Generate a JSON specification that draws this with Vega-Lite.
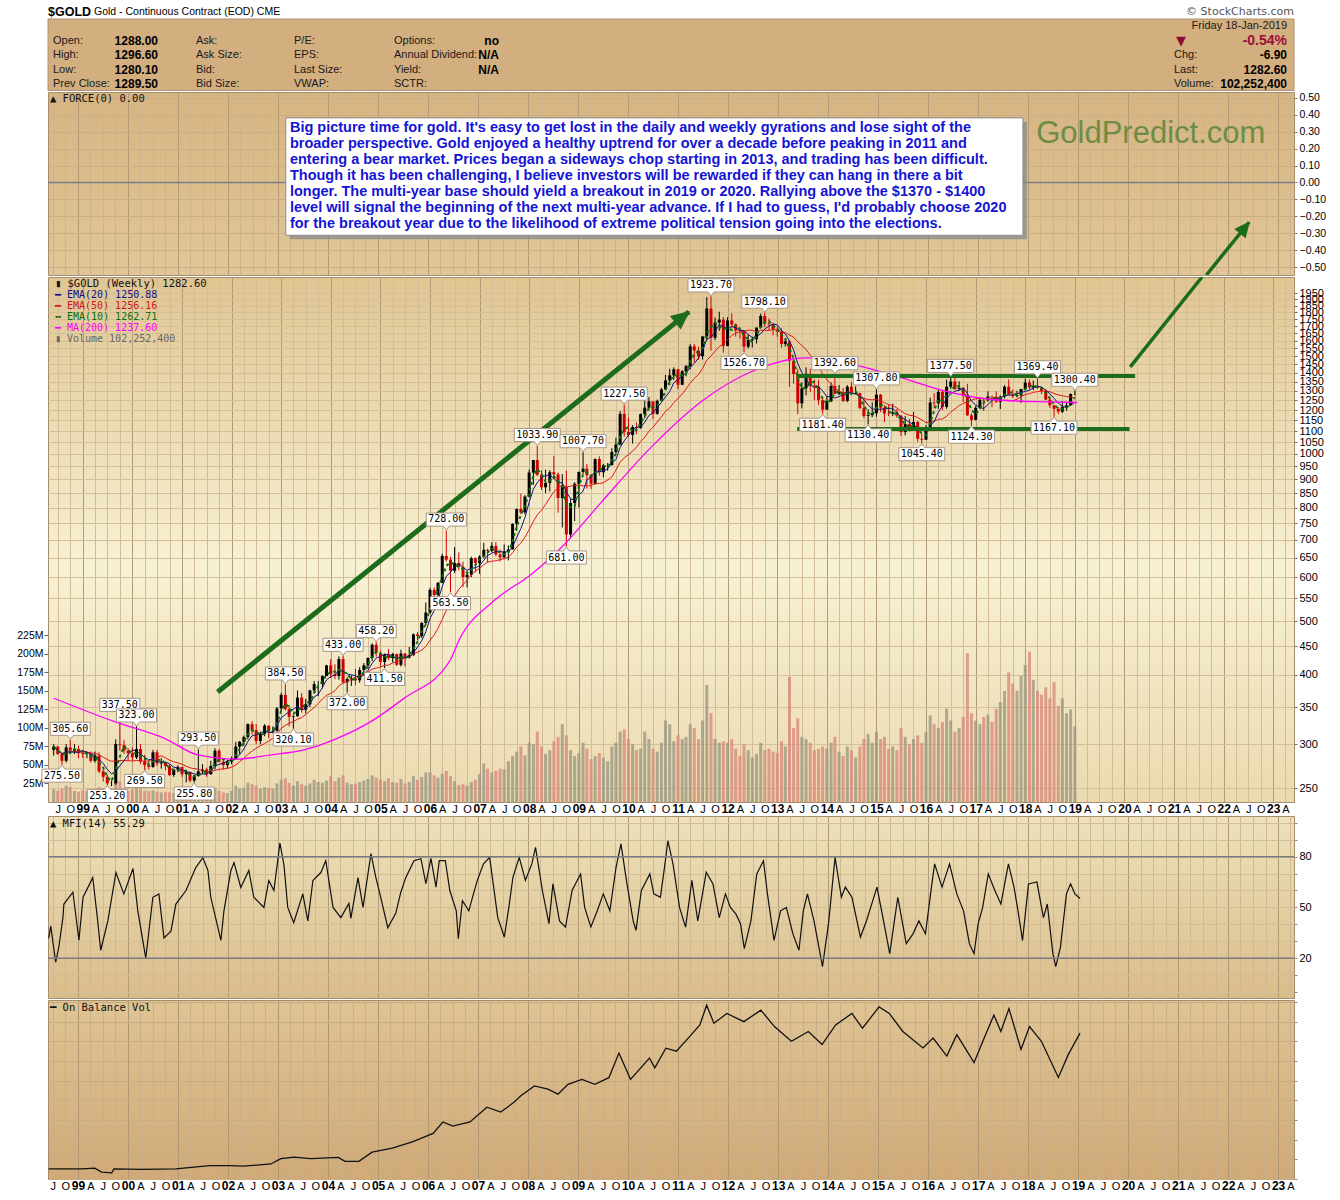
{
"$schema":"https://vega.github.io/schema/vega-lite/v6.json",
"background":"#ffffff",
"padding":{"left":16,"top":0,"right":0,"bottom":0},
"spacing":0,
"config":{"view":{"stroke":"#a58c6c"},"font":"Liberation Sans","axis":{"labelFont":"Liberation Sans","labelColor":"#000000"}},
"datasets":{
"candles":[
{"d":"1998-06","o":293,"h":300,"l":286,"c":297,"v":17},{"d":"1998-07","o":297,"h":298,"l":287,"c":288,"v":15},{"d":"1998-08","o":288,"h":290,"l":275.5,"c":280,"v":18},{"d":"1998-09","o":280,"h":300,"l":278,"c":296,"v":22},{"d":"1998-10","o":296,"h":305.6,"l":288,"c":292,"v":20},{"d":"1998-11","o":292,"h":300,"l":288,"c":294,"v":15},{"d":"1998-12","o":294,"h":298,"l":283,"c":289,"v":14},
{"d":"1999-01","o":289,"h":293,"l":283,"c":288,"v":16},{"d":"1999-02","o":288,"h":291,"l":283,"c":288,"v":15},{"d":"1999-03","o":288,"h":291,"l":278,"c":280,"v":16},{"d":"1999-04","o":280,"h":291,"l":278,"c":286,"v":17},{"d":"1999-05","o":286,"h":290,"l":266,"c":268,"v":20},{"d":"1999-06","o":268,"h":270,"l":257,"c":262,"v":19},{"d":"1999-07","o":262,"h":264,"l":253.2,"c":255,"v":20},{"d":"1999-08","o":255,"h":258,"l":252,"c":255,"v":17},{"d":"1999-09","o":255,"h":306,"l":253.5,"c":300,"v":30},{"d":"1999-10","o":300,"h":337.5,"l":292,"c":299,"v":28},{"d":"1999-11","o":299,"h":305,"l":288,"c":292,"v":19},{"d":"1999-12","o":292,"h":295,"l":280,"c":289,"v":15},
{"d":"2000-01","o":289,"h":296,"l":280,"c":284,"v":17},{"d":"2000-02","o":284,"h":323,"l":282,"c":294,"v":26},{"d":"2000-03","o":294,"h":300,"l":276,"c":279,"v":18},{"d":"2000-04","o":279,"h":287,"l":269.5,"c":275,"v":15},{"d":"2000-05","o":275,"h":280,"l":270,"c":273,"v":15},{"d":"2000-06","o":273,"h":293,"l":272,"c":290,"v":16},{"d":"2000-07","o":290,"h":293,"l":274,"c":277,"v":14},{"d":"2000-08","o":277,"h":283,"l":271,"c":278,"v":13},{"d":"2000-09","o":278,"h":279,"l":269,"c":274,"v":14},{"d":"2000-10","o":274,"h":276,"l":263,"c":264,"v":13},{"d":"2000-11","o":264,"h":271,"l":262,"c":270,"v":12},{"d":"2000-12","o":270,"h":275,"l":267,"c":273,"v":11},
{"d":"2001-01","o":273,"h":273,"l":262,"c":265,"v":13},{"d":"2001-02","o":265,"h":270,"l":256,"c":267,"v":14},{"d":"2001-03","o":267,"h":268,"l":256,"c":258,"v":13},{"d":"2001-04","o":258,"h":264,"l":255.8,"c":263,"v":14},{"d":"2001-05","o":263,"h":293.5,"l":262,"c":268,"v":20},{"d":"2001-06","o":268,"h":276,"l":265,"c":270,"v":15},{"d":"2001-07","o":270,"h":272,"l":262,"c":265,"v":12},{"d":"2001-08","o":265,"h":280,"l":264,"c":274,"v":13},{"d":"2001-09","o":274,"h":295,"l":270,"c":292,"v":19},{"d":"2001-10","o":292,"h":294,"l":278,"c":279,"v":15},{"d":"2001-11","o":279,"h":283,"l":270,"c":275,"v":13},{"d":"2001-12","o":275,"h":281,"l":271,"c":279,"v":12},
{"d":"2002-01","o":279,"h":285,"l":276,"c":282,"v":15},{"d":"2002-02","o":282,"h":303,"l":281,"c":297,"v":22},{"d":"2002-03","o":297,"h":304,"l":288,"c":303,"v":18},{"d":"2002-04","o":303,"h":311,"l":298,"c":309,"v":19},{"d":"2002-05","o":309,"h":327,"l":306,"c":326,"v":26},{"d":"2002-06","o":326,"h":330,"l":312,"c":318,"v":24},{"d":"2002-07","o":318,"h":326,"l":300,"c":304,"v":22},{"d":"2002-08","o":304,"h":316,"l":300,"c":313,"v":18},{"d":"2002-09","o":313,"h":326,"l":310,"c":324,"v":20},{"d":"2002-10","o":324,"h":324,"l":308,"c":316,"v":19},{"d":"2002-11","o":316,"h":323,"l":314,"c":317,"v":18},{"d":"2002-12","o":317,"h":350,"l":316,"c":348,"v":25},
{"d":"2003-01","o":348,"h":371,"l":344,"c":368,"v":30},{"d":"2003-02","o":368,"h":384.5,"l":345,"c":347,"v":32},{"d":"2003-03","o":347,"h":353,"l":323,"c":336,"v":26},{"d":"2003-04","o":336,"h":338,"l":320.1,"c":337,"v":22},{"d":"2003-05","o":337,"h":375,"l":336,"c":364,"v":28},{"d":"2003-06","o":364,"h":371,"l":342,"c":346,"v":24},{"d":"2003-07","o":346,"h":362,"l":341,"c":354,"v":22},{"d":"2003-08","o":354,"h":376,"l":350,"c":375,"v":25},{"d":"2003-09","o":375,"h":390,"l":370,"c":385,"v":30},{"d":"2003-10","o":385,"h":390,"l":366,"c":385,"v":27},{"d":"2003-11","o":385,"h":399,"l":378,"c":398,"v":26},{"d":"2003-12","o":398,"h":417,"l":398,"c":416,"v":29},
{"d":"2004-01","o":416,"h":427,"l":395,"c":401,"v":35},{"d":"2004-02","o":401,"h":418,"l":393,"c":398,"v":28},{"d":"2004-03","o":398,"h":432,"l":392,"c":427,"v":33},{"d":"2004-04","o":427,"h":433,"l":386,"c":388,"v":36},{"d":"2004-05","o":388,"h":396,"l":372,"c":393,"v":26},{"d":"2004-06","o":393,"h":399,"l":382,"c":394,"v":24},{"d":"2004-07","o":394,"h":410,"l":383,"c":391,"v":25},{"d":"2004-08","o":391,"h":413,"l":387,"c":408,"v":27},{"d":"2004-09","o":408,"h":420,"l":398,"c":416,"v":29},{"d":"2004-10","o":416,"h":430,"l":410,"c":429,"v":31},{"d":"2004-11","o":429,"h":456,"l":423,"c":453,"v":36},{"d":"2004-12","o":453,"h":458.2,"l":431,"c":438,"v":33},
{"d":"2005-01","o":438,"h":442,"l":414,"c":422,"v":30},{"d":"2005-02","o":422,"h":437,"l":411.5,"c":435,"v":28},{"d":"2005-03","o":435,"h":445,"l":425,"c":429,"v":32},{"d":"2005-04","o":429,"h":438,"l":421,"c":436,"v":27},{"d":"2005-05","o":436,"h":437,"l":415,"c":417,"v":26},{"d":"2005-06","o":417,"h":444,"l":414,"c":437,"v":31},{"d":"2005-07","o":437,"h":437,"l":414,"c":430,"v":25},{"d":"2005-08","o":430,"h":449,"l":428,"c":434,"v":27},{"d":"2005-09","o":434,"h":475,"l":433,"c":473,"v":35},{"d":"2005-10","o":473,"h":478,"l":461,"c":470,"v":30},{"d":"2005-11","o":470,"h":498,"l":466,"c":496,"v":34},{"d":"2005-12","o":496,"h":540,"l":490,"c":518,"v":40},
{"d":"2006-01","o":518,"h":574,"l":515,"c":569,"v":40},{"d":"2006-02","o":569,"h":575,"l":541,"c":557,"v":36},{"d":"2006-03","o":557,"h":588,"l":538,"c":586,"v":33},{"d":"2006-04","o":586,"h":661,"l":585,"c":655,"v":38},{"d":"2006-05","o":655,"h":728,"l":640,"c":645,"v":42},{"d":"2006-06","o":645,"h":653,"l":563.5,"c":616,"v":35},{"d":"2006-07","o":616,"h":680,"l":610,"c":636,"v":28},{"d":"2006-08","o":636,"h":665,"l":617,"c":626,"v":23},{"d":"2006-09","o":626,"h":640,"l":576,"c":600,"v":24},{"d":"2006-10","o":600,"h":611,"l":575,"c":606,"v":22},{"d":"2006-11","o":606,"h":653,"l":600,"c":649,"v":27},{"d":"2006-12","o":649,"h":651,"l":612,"c":636,"v":30},
{"d":"2007-01","o":636,"h":657,"l":608,"c":653,"v":38},{"d":"2007-02","o":653,"h":692,"l":648,"c":672,"v":52},{"d":"2007-03","o":672,"h":675,"l":637,"c":669,"v":45},{"d":"2007-04","o":669,"h":693,"l":665,"c":683,"v":40},{"d":"2007-05","o":683,"h":694,"l":654,"c":659,"v":42},{"d":"2007-06","o":659,"h":673,"l":640,"c":651,"v":45},{"d":"2007-07","o":651,"h":687,"l":650,"c":667,"v":44},{"d":"2007-08","o":667,"h":684,"l":643,"c":673,"v":55},{"d":"2007-09","o":673,"h":750,"l":673,"c":748,"v":62},{"d":"2007-10","o":748,"h":797,"l":727,"c":796,"v":68},{"d":"2007-11","o":796,"h":848,"l":779,"c":785,"v":75},{"d":"2007-12","o":785,"h":843,"l":779,"c":838,"v":63},
{"d":"2008-01","o":838,"h":937,"l":835,"c":926,"v":80},{"d":"2008-02","o":926,"h":975,"l":880,"c":975,"v":78},{"d":"2008-03","o":975,"h":1033.9,"l":912,"c":917,"v":95},{"d":"2008-04","o":917,"h":934,"l":861,"c":871,"v":75},{"d":"2008-05","o":871,"h":937,"l":850,"c":887,"v":65},{"d":"2008-06","o":887,"h":935,"l":856,"c":927,"v":70},{"d":"2008-07","o":927,"h":992,"l":900,"c":919,"v":82},{"d":"2008-08","o":919,"h":926,"l":784,"c":833,"v":88},{"d":"2008-09","o":833,"h":920,"l":737,"c":872,"v":105},{"d":"2008-10","o":872,"h":934,"l":681,"c":716,"v":90},{"d":"2008-11","o":716,"h":831,"l":705,"c":816,"v":70},{"d":"2008-12","o":816,"h":889,"l":757,"c":884,"v":62},
{"d":"2009-01","o":884,"h":930,"l":801,"c":928,"v":66},{"d":"2009-02","o":928,"h":1007.7,"l":920,"c":941,"v":80},{"d":"2009-03","o":941,"h":960,"l":866,"c":916,"v":72},{"d":"2009-04","o":916,"h":918,"l":865,"c":884,"v":58},{"d":"2009-05","o":884,"h":982,"l":880,"c":979,"v":62},{"d":"2009-06","o":979,"h":990,"l":914,"c":927,"v":66},{"d":"2009-07","o":927,"h":960,"l":908,"c":955,"v":60},{"d":"2009-08","o":955,"h":963,"l":933,"c":955,"v":55},{"d":"2009-09","o":955,"h":1024,"l":953,"c":1008,"v":75},{"d":"2009-10","o":1008,"h":1070,"l":1003,"c":1040,"v":80},{"d":"2009-11","o":1040,"h":1195,"l":1036,"c":1181,"v":95},{"d":"2009-12","o":1181,"h":1227.5,"l":1075,"c":1096,"v":98},
{"d":"2010-01","o":1096,"h":1162,"l":1074,"c":1082,"v":85},{"d":"2010-02","o":1082,"h":1127,"l":1044,"c":1118,"v":78},{"d":"2010-03","o":1118,"h":1140,"l":1086,"c":1113,"v":70},{"d":"2010-04","o":1113,"h":1183,"l":1111,"c":1180,"v":72},{"d":"2010-05","o":1180,"h":1249,"l":1160,"c":1212,"v":95},{"d":"2010-06","o":1212,"h":1266,"l":1198,"c":1244,"v":85},{"d":"2010-07","o":1244,"h":1245,"l":1155,"c":1181,"v":72},{"d":"2010-08","o":1181,"h":1253,"l":1177,"c":1247,"v":68},{"d":"2010-09","o":1247,"h":1315,"l":1245,"c":1307,"v":80},{"d":"2010-10","o":1307,"h":1388,"l":1305,"c":1357,"v":110},{"d":"2010-11","o":1357,"h":1424,"l":1330,"c":1386,"v":105},{"d":"2010-12","o":1386,"h":1432,"l":1360,"c":1421,"v":82},
{"d":"2011-01","o":1421,"h":1424,"l":1309,"c":1333,"v":90},{"d":"2011-02","o":1333,"h":1416,"l":1330,"c":1409,"v":85},{"d":"2011-03","o":1409,"h":1447,"l":1380,"c":1439,"v":88},{"d":"2011-04","o":1439,"h":1577,"l":1420,"c":1563,"v":105},{"d":"2011-05","o":1563,"h":1578,"l":1462,"c":1536,"v":100},{"d":"2011-06","o":1536,"h":1561,"l":1478,"c":1500,"v":85},{"d":"2011-07","o":1500,"h":1632,"l":1480,"c":1628,"v":110},{"d":"2011-08","o":1628,"h":1917,"l":1602,"c":1829,"v":158},{"d":"2011-09","o":1829,"h":1923.7,"l":1535,"c":1620,"v":120},{"d":"2011-10","o":1620,"h":1762,"l":1604,"c":1725,"v":85},{"d":"2011-11","o":1725,"h":1804,"l":1667,"c":1746,"v":80},{"d":"2011-12","o":1746,"h":1764,"l":1523,"c":1566,"v":82},
{"d":"2012-01","o":1566,"h":1764,"l":1563,"c":1740,"v":80},{"d":"2012-02","o":1740,"h":1792,"l":1688,"c":1711,"v":85},{"d":"2012-03","o":1711,"h":1720,"l":1627,"c":1669,"v":72},{"d":"2012-04","o":1669,"h":1680,"l":1613,"c":1664,"v":62},{"d":"2012-05","o":1664,"h":1667,"l":1526.7,"c":1561,"v":78},{"d":"2012-06","o":1561,"h":1642,"l":1550,"c":1604,"v":70},{"d":"2012-07","o":1604,"h":1625,"l":1555,"c":1610,"v":60},{"d":"2012-08","o":1610,"h":1675,"l":1582,"c":1690,"v":65},{"d":"2012-09","o":1690,"h":1790,"l":1688,"c":1773,"v":80},{"d":"2012-10","o":1773,"h":1798.1,"l":1692,"c":1719,"v":70},{"d":"2012-11","o":1719,"h":1755,"l":1672,"c":1714,"v":72},{"d":"2012-12","o":1714,"h":1724,"l":1636,"c":1675,"v":68},
{"d":"2013-01","o":1675,"h":1698,"l":1626,"c":1663,"v":66},{"d":"2013-02","o":1663,"h":1684,"l":1555,"c":1579,"v":82},{"d":"2013-03","o":1579,"h":1617,"l":1562,"c":1596,"v":75},{"d":"2013-04","o":1596,"h":1605,"l":1321,"c":1472,"v":169},{"d":"2013-05","o":1472,"h":1488,"l":1338,"c":1393,"v":100},{"d":"2013-06","o":1393,"h":1424,"l":1180,"c":1234,"v":113},{"d":"2013-07","o":1234,"h":1347,"l":1208,"c":1313,"v":88},{"d":"2013-08","o":1313,"h":1433,"l":1275,"c":1395,"v":85},{"d":"2013-09","o":1395,"h":1424,"l":1292,"c":1327,"v":80},{"d":"2013-10","o":1327,"h":1362,"l":1251,"c":1323,"v":70},{"d":"2013-11","o":1323,"h":1361,"l":1226,"c":1250,"v":72},{"d":"2013-12","o":1250,"h":1267,"l":1181.4,"c":1202,"v":75},
{"d":"2014-01","o":1202,"h":1270,"l":1200,"c":1244,"v":72},{"d":"2014-02","o":1244,"h":1345,"l":1240,"c":1326,"v":80},{"d":"2014-03","o":1326,"h":1392.6,"l":1281,"c":1284,"v":88},{"d":"2014-04","o":1284,"h":1331,"l":1277,"c":1292,"v":68},{"d":"2014-05","o":1292,"h":1315,"l":1240,"c":1246,"v":62},{"d":"2014-06","o":1246,"h":1331,"l":1240,"c":1322,"v":75},{"d":"2014-07","o":1322,"h":1346,"l":1282,"c":1282,"v":70},{"d":"2014-08","o":1282,"h":1324,"l":1280,"c":1287,"v":60},{"d":"2014-09","o":1287,"h":1290,"l":1204,"c":1210,"v":75},{"d":"2014-10","o":1210,"h":1256,"l":1160,"c":1171,"v":85},{"d":"2014-11","o":1171,"h":1204,"l":1130.4,"c":1175,"v":92},{"d":"2014-12","o":1175,"h":1240,"l":1165,"c":1184,"v":80},
{"d":"2015-01","o":1184,"h":1307.8,"l":1167,"c":1279,"v":95},{"d":"2015-02","o":1279,"h":1283,"l":1190,"c":1212,"v":85},{"d":"2015-03","o":1212,"h":1224,"l":1142,"c":1183,"v":88},{"d":"2015-04","o":1183,"h":1225,"l":1170,"c":1182,"v":72},{"d":"2015-05","o":1182,"h":1232,"l":1170,"c":1189,"v":75},{"d":"2015-06","o":1189,"h":1205,"l":1162,"c":1172,"v":70},{"d":"2015-07","o":1172,"h":1175,"l":1077,"c":1095,"v":100},{"d":"2015-08","o":1095,"h":1170,"l":1080,"c":1132,"v":88},{"d":"2015-09","o":1132,"h":1157,"l":1098,"c":1114,"v":78},{"d":"2015-10","o":1114,"h":1191,"l":1110,"c":1142,"v":85},{"d":"2015-11","o":1142,"h":1146,"l":1052,"c":1065,"v":90},{"d":"2015-12","o":1065,"h":1090,"l":1045.4,"c":1061,"v":80},
{"d":"2016-01","o":1061,"h":1127,"l":1061,"c":1117,"v":95},{"d":"2016-02","o":1117,"h":1263,"l":1107,"c":1238,"v":117},{"d":"2016-03","o":1238,"h":1287,"l":1209,"c":1234,"v":105},{"d":"2016-04","o":1234,"h":1306,"l":1206,"c":1294,"v":100},{"d":"2016-05","o":1294,"h":1305,"l":1199,"c":1215,"v":108},{"d":"2016-06","o":1215,"h":1362,"l":1206,"c":1322,"v":126},{"d":"2016-07","o":1322,"h":1377.5,"l":1310,"c":1351,"v":110},{"d":"2016-08","o":1351,"h":1375,"l":1306,"c":1309,"v":95},{"d":"2016-09","o":1309,"h":1352,"l":1302,"c":1316,"v":100},{"d":"2016-10","o":1316,"h":1318,"l":1241,"c":1275,"v":115},{"d":"2016-11","o":1275,"h":1338,"l":1171,"c":1174,"v":201},{"d":"2016-12","o":1174,"h":1184,"l":1124.3,"c":1152,"v":120},
{"d":"2017-01","o":1152,"h":1221,"l":1150,"c":1211,"v":110},{"d":"2017-02","o":1211,"h":1264,"l":1207,"c":1252,"v":105},{"d":"2017-03","o":1252,"h":1262,"l":1195,"c":1249,"v":115},{"d":"2017-04","o":1249,"h":1297,"l":1243,"c":1269,"v":118},{"d":"2017-05","o":1269,"h":1275,"l":1214,"c":1268,"v":108},{"d":"2017-06","o":1268,"h":1297,"l":1236,"c":1242,"v":126},{"d":"2017-07","o":1242,"h":1275,"l":1205,"c":1269,"v":135},{"d":"2017-08","o":1269,"h":1330,"l":1260,"c":1322,"v":150},{"d":"2017-09","o":1322,"h":1362,"l":1277,"c":1280,"v":175},{"d":"2017-10","o":1280,"h":1308,"l":1262,"c":1271,"v":160},{"d":"2017-11","o":1271,"h":1300,"l":1265,"c":1275,"v":150},{"d":"2017-12","o":1275,"h":1310,"l":1236,"c":1309,"v":170},
{"d":"2018-01","o":1309,"h":1366,"l":1306,"c":1345,"v":185},{"d":"2018-02","o":1345,"h":1362,"l":1307,"c":1318,"v":203},{"d":"2018-03","o":1318,"h":1356,"l":1303,"c":1327,"v":165},{"d":"2018-04","o":1327,"h":1369.4,"l":1310,"c":1316,"v":150},{"d":"2018-05","o":1316,"h":1320,"l":1282,"c":1299,"v":145},{"d":"2018-06","o":1299,"h":1309,"l":1250,"c":1253,"v":155},{"d":"2018-07","o":1253,"h":1265,"l":1211,"c":1224,"v":140},{"d":"2018-08","o":1224,"h":1225,"l":1167.1,"c":1206,"v":162},{"d":"2018-09","o":1206,"h":1215,"l":1180,"c":1192,"v":130},{"d":"2018-10","o":1192,"h":1245,"l":1185,"c":1215,"v":140},{"d":"2018-11","o":1215,"h":1237,"l":1196,"c":1224,"v":120},{"d":"2018-12","o":1224,"h":1286,"l":1222,"c":1282,"v":125},
{"d":"2019-01","o":1282,"h":1300.4,"l":1276,"c":1282.6,"v":102}
],
"ann":[
{"d":"1998-10","p":305.6,"t":"305.60","k":"h"},{"d":"1999-10","p":337.5,"t":"337.50","k":"h"},{"d":"2000-02","p":323,"t":"323.00","k":"h"},{"d":"2001-05","p":293.5,"t":"293.50","k":"h"},{"d":"2003-02","p":384.5,"t":"384.50","k":"h"},{"d":"2004-04","p":433,"t":"433.00","k":"h"},{"d":"2004-12","p":458.2,"t":"458.20","k":"h"},{"d":"2006-05","p":728,"t":"728.00","k":"h"},{"d":"2008-03","p":1033.9,"t":"1033.90","k":"h"},{"d":"2009-02","p":1007.7,"t":"1007.70","k":"h"},{"d":"2009-12","p":1227.5,"t":"1227.50","k":"h"},{"d":"2011-09","p":1923.7,"t":"1923.70","k":"h"},{"d":"2012-10","p":1798.1,"t":"1798.10","k":"h"},{"d":"2014-03","p":1392.6,"t":"1392.60","k":"h"},{"d":"2015-01","p":1307.8,"t":"1307.80","k":"h"},{"d":"2016-07","p":1377.5,"t":"1377.50","k":"h"},{"d":"2018-04","p":1369.4,"t":"1369.40","k":"h"},{"d":"2019-01","p":1300.4,"t":"1300.40","k":"h"},
{"d":"1998-08","p":275.5,"t":"275.50","k":"l"},{"d":"1999-07","p":253.2,"t":"253.20","k":"l"},{"d":"2000-04","p":269.5,"t":"269.50","k":"l"},{"d":"2001-04","p":255.8,"t":"255.80","k":"l"},{"d":"2003-04","p":320.1,"t":"320.10","k":"l"},{"d":"2004-05","p":372,"t":"372.00","k":"l"},{"d":"2005-02","p":411.5,"t":"411.50","k":"l"},{"d":"2006-06","p":563.5,"t":"563.50","k":"l"},{"d":"2008-10","p":681,"t":"681.00","k":"l"},{"d":"2012-05","p":1526.7,"t":"1526.70","k":"l"},{"d":"2013-12","p":1181.4,"t":"1181.40","k":"l"},{"d":"2014-11","p":1130.4,"t":"1130.40","k":"l"},{"d":"2015-12","p":1045.4,"t":"1045.40","k":"l"},{"d":"2016-12","p":1124.3,"t":"1124.30","k":"l"},{"d":"2018-08","p":1167.1,"t":"1167.10","k":"l"}
],
"ma":[
{"d":"1998-06-01","m":363},{"d":"1999-08-29","m":329},{"d":"2000-08-29","m":307},{"d":"2001-04-27","m":287},{"d":"2002-02-14","m":282},{"d":"2002-10-19","m":287},{"d":"2003-06-18","m":293},{"d":"2004-02-14","m":307},{"d":"2004-10-19","m":329},{"d":"2005-06-18","m":362},{"d":"2006-05-27","m":424},{"d":"2006-08-07","m":464},{"d":"2007-04-06","m":541},{"d":"2008-01-20","m":608},{"d":"2008-08-29","m":680},{"d":"2009-06-18","m":820},{"d":"2010-06-18","m":1029},{"d":"2011-06-18","m":1241},{"d":"2012-06-18","m":1405},{"d":"2013-08-07","m":1490},{"d":"2014-06-18","m":1453},{"d":"2015-06-18","m":1376},{"d":"2016-06-18","m":1293},{"d":"2017-06-18","m":1251},{"d":"2018-06-18","m":1241},{"d":"2019-01-18","m":1238}
],
"mfi":[
{"d":"1998-06-01","m":31.8},{"d":"1998-06-16","m":39},{"d":"1998-07-22","m":17.6},{"d":"1998-08-14","m":26.5},{"d":"1998-09-13","m":44},{"d":"1998-09-20","m":52},{"d":"1998-11-25","m":59},{"d":"1999-01-08","m":30.6},{"d":"1999-02-07","m":56},{"d":"1999-04-19","m":67.6},{"d":"1999-05-25","m":42},{"d":"1999-06-16","m":24.7},{"d":"1999-08-07","m":42},{"d":"1999-10-05","m":70.6},{"d":"1999-12-02","m":58},
{"d":"2000-02-07","m":73},{"d":"2000-03-13","m":48},{"d":"2000-05-10","m":20},{"d":"2000-07-01","m":56},{"d":"2000-08-14","m":58},{"d":"2000-09-20","m":32},{"d":"2000-11-10","m":36},{"d":"2000-12-16","m":52},{"d":"2001-02-28","m":60},{"d":"2001-05-10","m":73.5},{"d":"2001-07-01","m":79.4},{"d":"2001-08-07","m":71.8},{"d":"2001-08-28","m":56},{"d":"2001-11-10","m":30.6},{"d":"2001-12-02","m":48},
{"d":"2002-01-22","m":71.8},{"d":"2002-02-14","m":76.5},{"d":"2002-04-04","m":61.8},{"d":"2002-06-02","m":71.8},{"d":"2002-07-08","m":56},{"d":"2002-09-20","m":50},{"d":"2002-10-26","m":65.9},{"d":"2002-12-02","m":60},{"d":"2003-01-15","m":88},{"d":"2003-02-14","m":74.7},{"d":"2003-03-13","m":50},{"d":"2003-04-26","m":41},{"d":"2003-07-01","m":58},{"d":"2003-08-07","m":42},{"d":"2003-09-13","m":65.9},{"d":"2003-11-10","m":70.6},{"d":"2003-12-16","m":77.6},
{"d":"2004-02-07","m":50},{"d":"2004-04-04","m":44},{"d":"2004-06-02","m":52.4},{"d":"2004-06-16","m":43.5},{"d":"2004-08-07","m":67.6},{"d":"2004-09-13","m":50},{"d":"2004-11-10","m":81.8},{"d":"2004-12-16","m":67.6},{"d":"2005-01-22","m":55.3},{"d":"2005-03-13","m":38},{"d":"2005-05-10","m":46.5},{"d":"2005-06-16","m":59},{"d":"2005-07-22","m":67.6},{"d":"2005-09-20","m":77.6},{"d":"2005-11-10","m":78.8},{"d":"2005-12-16","m":64},
{"d":"2006-01-22","m":79},{"d":"2006-02-28","m":62},{"d":"2006-03-24","m":77.6},{"d":"2006-05-07","m":77.6},{"d":"2006-06-09","m":60},{"d":"2006-07-26","m":48},{"d":"2006-08-10","m":31.5},{"d":"2006-09-09","m":54},{"d":"2006-10-26","m":48},{"d":"2006-11-25","m":57},{"d":"2006-12-27","m":66},{"d":"2007-02-10","m":75.7},{"d":"2007-03-27","m":79.6},{"d":"2007-05-25","m":44},{"d":"2007-07-12","m":32.5},{"d":"2007-08-14","m":50},{"d":"2007-09-13","m":67.8},{"d":"2007-10-29","m":79.6},{"d":"2007-12-13","m":66},
{"d":"2008-01-29","m":75.7},{"d":"2008-02-25","m":85.5},{"d":"2008-04-15","m":60},{"d":"2008-06-02","m":40.4},{"d":"2008-07-01","m":63.9},{"d":"2008-08-18","m":42},{"d":"2008-10-01","m":38.4},{"d":"2008-11-18","m":60},{"d":"2009-01-19","m":69.8},{"d":"2009-02-18","m":50},{"d":"2009-04-04","m":38.4},{"d":"2009-05-21","m":48},{"d":"2009-07-04","m":58},{"d":"2009-08-21","m":48},{"d":"2009-10-05","m":73.7},{"d":"2009-11-10","m":87.5},{"d":"2009-12-20","m":66},
{"d":"2010-02-07","m":42},{"d":"2010-02-28","m":36.4},{"d":"2010-04-08","m":60},{"d":"2010-06-09","m":69.8},{"d":"2010-07-08","m":58},{"d":"2010-08-25","m":56},{"d":"2010-09-24","m":73.7},{"d":"2010-10-19","m":89.4},{"d":"2010-11-25","m":75.7},{"d":"2011-01-12","m":50},{"d":"2011-02-25","m":38.4},{"d":"2011-04-12","m":66},{"d":"2011-05-25","m":42},{"d":"2011-07-26","m":70.8},{"d":"2011-09-13","m":63.9},{"d":"2011-10-29","m":44},{"d":"2011-12-13","m":58},
{"d":"2012-01-19","m":50},{"d":"2012-02-28","m":46},{"d":"2012-04-01","m":40.4},{"d":"2012-04-29","m":25.7},{"d":"2012-06-16","m":42},{"d":"2012-07-29","m":69.8},{"d":"2012-09-16","m":77.6},{"d":"2012-10-15","m":58},{"d":"2012-12-02","m":30.5},{"d":"2013-01-19","m":48},{"d":"2013-03-02","m":50},{"d":"2013-04-19","m":34.4},{"d":"2013-06-02","m":24.7},{"d":"2013-07-04","m":48},{"d":"2013-08-03","m":58},{"d":"2013-09-20","m":42},{"d":"2013-11-21","m":15},
{"d":"2014-01-04","m":40.4},{"d":"2014-02-21","m":79.6},{"d":"2014-04-08","m":56},{"d":"2014-05-07","m":62},{"d":"2014-06-24","m":56},{"d":"2014-08-25","m":32.5},{"d":"2014-10-08","m":42},{"d":"2014-12-24","m":62},{"d":"2015-02-10","m":42},{"d":"2015-03-27","m":22.7},{"d":"2015-05-25","m":56},{"d":"2015-07-26","m":28.6},{"d":"2015-09-13","m":34.4},{"d":"2015-10-26","m":42},{"d":"2015-12-13","m":34.4},
{"d":"2016-01-29","m":63.9},{"d":"2016-02-18","m":75.7},{"d":"2016-04-12","m":62},{"d":"2016-06-06","m":75.7},{"d":"2016-07-29","m":58},{"d":"2016-09-16","m":48},{"d":"2016-10-29","m":28.6},{"d":"2016-12-02","m":22.7},{"d":"2017-01-01","m":40.4},{"d":"2017-02-03","m":50},{"d":"2017-03-16","m":69.8},{"d":"2017-05-03","m":60},{"d":"2017-06-16","m":52},{"d":"2017-08-10","m":75.7},{"d":"2017-09-20","m":62},{"d":"2017-10-19","m":48},{"d":"2017-11-21","m":30.5},
{"d":"2018-01-04","m":63.9},{"d":"2018-03-06","m":65},{"d":"2018-04-23","m":44},{"d":"2018-05-21","m":52},{"d":"2018-07-01","m":22.7},{"d":"2018-07-22","m":15},{"d":"2018-08-25","m":26.6},{"d":"2018-10-08","m":58},{"d":"2018-11-07","m":63.9},{"d":"2018-12-09","m":58},{"d":"2019-01-15","m":55.3}
],
"obv":[
{"d":"1998-06-01","b":10.3},{"d":"1999-01-25","b":10.3},{"d":"1999-05-03","b":11},{"d":"1999-06-23","b":7},{"d":"1999-09-05","b":6.3},{"d":"1999-09-20","b":10.3},{"d":"2000-04-11","b":9.7},{"d":"2000-12-16","b":10.3},{"d":"2001-08-21","b":13.7},{"d":"2002-01-15","b":13.7},{"d":"2002-04-26","b":13},{"d":"2002-11-10","b":15.3},{"d":"2003-01-22","b":20.7},{"d":"2003-04-30","b":22.3},{"d":"2003-08-28","b":20.7},{"d":"2004-03-17","b":22},{"d":"2004-05-04","b":18},{"d":"2004-08-14","b":18},{"d":"2004-11-18","b":27.3},{"d":"2005-04-15","b":31.3},{"d":"2005-09-13","b":38},{"d":"2006-02-07","b":46.3},{"d":"2006-04-19","b":58},{"d":"2006-07-01","b":53.7},{"d":"2006-11-03","b":58},{"d":"2007-03-07","b":73},{"d":"2007-06-16","b":68},{"d":"2007-09-20","b":78},{"d":"2007-11-10","b":84.7},{"d":"2008-02-17","b":94.7},{"d":"2008-05-25","b":91.3},{"d":"2008-08-07","b":86.3},{"d":"2008-10-19","b":96.3},{"d":"2009-01-29","b":101.3},{"d":"2009-05-03","b":96.3},{"d":"2009-08-14","b":103},{"d":"2009-10-26","b":128},{"d":"2010-01-19","b":101.3},{"d":"2010-06-06","b":123},{"d":"2010-07-15","b":113},{"d":"2010-10-04","b":133},{"d":"2010-12-20","b":130},{"d":"2011-03-28","b":145},{"d":"2011-06-09","b":156.7},{"d":"2011-07-29","b":176.7},{"d":"2011-09-20","b":158.3},{"d":"2011-12-24","b":168.3},{"d":"2012-04-26","b":160},{"d":"2012-08-28","b":171.7},{"d":"2012-12-05","b":155},{"d":"2013-04-08","b":140},{"d":"2013-08-10","b":150},{"d":"2013-11-18","b":136.7},{"d":"2014-02-25","b":156.7},{"d":"2014-06-24","b":168.3},{"d":"2014-09-09","b":153.3},{"d":"2015-01-08","b":175},{"d":"2015-03-24","b":168.3},{"d":"2015-07-01","b":150},{"d":"2015-11-25","b":133.3},{"d":"2016-02-07","b":143.3},{"d":"2016-05-17","b":125},{"d":"2016-07-29","b":146.7},{"d":"2016-12-02","b":118.3},{"d":"2017-02-14","b":143.3},{"d":"2017-04-26","b":166.7},{"d":"2017-06-16","b":150},{"d":"2017-08-14","b":173.3},{"d":"2017-11-10","b":131.7},{"d":"2018-01-11","b":155},{"d":"2018-04-08","b":140},{"d":"2018-08-10","b":103.3},{"d":"2018-10-22","b":126.7},{"d":"2019-01-15","b":148.3}
],
"hdr":[
{"c":0,"r":0,"t":"Open:","k":"l"},{"c":1,"r":0,"t":"1288.00","k":"v"},{"c":0,"r":1,"t":"High:","k":"l"},{"c":1,"r":1,"t":"1296.60","k":"v"},{"c":0,"r":2,"t":"Low:","k":"l"},{"c":1,"r":2,"t":"1280.10","k":"v"},{"c":0,"r":3,"t":"Prev Close:","k":"l"},{"c":1,"r":3,"t":"1289.50","k":"v"},
{"c":2,"r":0,"t":"Ask:","k":"l"},{"c":2,"r":1,"t":"Ask Size:","k":"l"},{"c":2,"r":2,"t":"Bid:","k":"l"},{"c":2,"r":3,"t":"Bid Size:","k":"l"},
{"c":3,"r":0,"t":"P/E:","k":"l"},{"c":3,"r":1,"t":"EPS:","k":"l"},{"c":3,"r":2,"t":"Last Size:","k":"l"},{"c":3,"r":3,"t":"VWAP:","k":"l"},
{"c":4,"r":0,"t":"Options:","k":"l"},{"c":4,"r":1,"t":"Annual Dividend:","k":"l"},{"c":4,"r":2,"t":"Yield:","k":"l"},{"c":4,"r":3,"t":"SCTR:","k":"l"},
{"c":5,"r":0,"t":"no","k":"v"},{"c":5,"r":1,"t":"N/A","k":"v"},{"c":5,"r":2,"t":"N/A","k":"v"},
{"c":6,"r":1,"t":"Chg:","k":"l"},{"c":6,"r":2,"t":"Last:","k":"l"},{"c":6,"r":3,"t":"Volume:","k":"l"},
{"c":8,"r":1,"t":"-6.90","k":"v"},{"c":8,"r":2,"t":"1282.60","k":"v"},{"c":8,"r":3,"t":"102,252,400","k":"v"},
{"c":8,"r":-1,"t":"Friday  18-Jan-2019","k":"n"},{"c":9,"r":-2,"t":"© StockCharts.com","k":"s"},
{"c":8,"r":0,"t":"-0.54%","k":"p"},{"c":7,"r":0,"t":"▼","k":"a"},
{"c":-1,"r":-2,"t":"$GOLD","k":"T"},{"c":-1,"r":-2,"t":"Gold - Continuous Contract (EOD)  CME","k":"S"}
],
"note":[{"t":["Big picture time for gold. It's easy to get lost in the daily and weekly gyrations and lose sight of the","broader perspective. Gold enjoyed a healthy uptrend for over a decade before peaking in 2011 and","entering a bear market. Prices began a sideways chop starting in 2013, and trading has been difficult.","Though it has been challenging, I believe investors will be rewarded if they can hang in there a bit","longer. The multi-year base should yield a breakout in 2019 or 2020. Rallying above the $1370 - $1400","level will signal the beginning of the next multi-year advance. If I had to guess, I'd probably choose 2020","for the breakout year due to the likelihood of extreme political tension going into the elections."]}]
},
"vconcat":[
{
"width":1246,"height":91,
"view":{"stroke":null},
"data":{"name":"hdr"},
"layer":[
{"data":{"values":[{"box":1}]},"mark":{"type":"rect","fill":"#d3ae7f","stroke":"#b09070","strokeWidth":1},
 "encoding":{"x":{"datum":-1,"type":"quantitative","scale":{"domain":[-1,0,1,2,3,4,5,6,7,8,9],"range":[0,5,110,148,246,346,451,1126,1133,1239,1246]},"axis":null},"x2":{"datum":9},
 "y":{"datum":-1.5,"type":"quantitative","scale":{"domain":[-2,-1,0,3],"range":[12,26,41,84]},"axis":null},"y2":{"datum":3.45}}},
{"transform":[{"filter":"datum.k=='l'"}],"mark":{"type":"text","align":"left","baseline":"middle","fontSize":11,"color":"#1a1a1a"},
 "encoding":{"x":{"field":"c","type":"quantitative","scale":{"domain":[-1,0,1,2,3,4,5,6,7,8,9],"range":[0,5,110,148,246,346,451,1126,1133,1239,1246]},"axis":null},"y":{"field":"r","type":"quantitative","scale":{"domain":[-2,-1,0,3],"range":[12,26,41,84]},"axis":null},"text":{"field":"t"}}},
{"transform":[{"filter":"datum.k=='v'"}],"mark":{"type":"text","align":"right","baseline":"middle","fontSize":12,"fontWeight":"bold","color":"#000000"},
 "encoding":{"x":{"field":"c","type":"quantitative","scale":{"domain":[-1,0,1,2,3,4,5,6,7,8,9],"range":[0,5,110,148,246,346,451,1126,1133,1239,1246]},"axis":null},"y":{"field":"r","type":"quantitative","scale":{"domain":[-2,-1,0,3],"range":[12,26,41,84]},"axis":null},"text":{"field":"t"}}},
{"transform":[{"filter":"datum.k=='n'"}],"mark":{"type":"text","align":"right","baseline":"middle","fontSize":11,"color":"#1a1a1a"},
 "encoding":{"x":{"field":"c","type":"quantitative","scale":{"domain":[-1,0,1,2,3,4,5,6,7,8,9],"range":[0,5,110,148,246,346,451,1126,1133,1239,1246]},"axis":null},"y":{"field":"r","type":"quantitative","scale":{"domain":[-2,-1,0,3],"range":[12,26,41,84]},"axis":null},"text":{"field":"t"}}},
{"transform":[{"filter":"datum.k=='s'"}],"mark":{"type":"text","align":"right","baseline":"middle","fontSize":11,"color":"#555555","font":"DejaVu Sans"},
 "encoding":{"x":{"field":"c","type":"quantitative","scale":{"domain":[-1,0,1,2,3,4,5,6,7,8,9],"range":[0,5,110,148,246,346,451,1126,1133,1239,1246]},"axis":null},"y":{"field":"r","type":"quantitative","scale":{"domain":[-2,-1,0,3],"range":[12,26,41,84]},"axis":null},"text":{"field":"t"}}},
{"transform":[{"filter":"datum.k=='p'"}],"mark":{"type":"text","align":"right","baseline":"middle","fontSize":14,"fontWeight":"bold","color":"#9c0d3a"},
 "encoding":{"x":{"field":"c","type":"quantitative","scale":{"domain":[-1,0,1,2,3,4,5,6,7,8,9],"range":[0,5,110,148,246,346,451,1126,1133,1239,1246]},"axis":null},"y":{"field":"r","type":"quantitative","scale":{"domain":[-2,-1,0,3],"range":[12,26,41,84]},"axis":null},"text":{"field":"t"}}},
{"transform":[{"filter":"datum.k=='a'"}],"mark":{"type":"text","align":"center","baseline":"middle","fontSize":13,"color":"#8a0a30","font":"DejaVu Sans"},
 "encoding":{"x":{"field":"c","type":"quantitative","scale":{"domain":[-1,0,1,2,3,4,5,6,7,8,9],"range":[0,5,110,148,246,346,451,1126,1133,1239,1246]},"axis":null},"y":{"field":"r","type":"quantitative","scale":{"domain":[-2,-1,0,3],"range":[12,26,41,84]},"axis":null},"text":{"field":"t"}}},
{"transform":[{"filter":"datum.k=='T'"}],"mark":{"type":"text","align":"left","baseline":"middle","fontSize":12.5,"fontWeight":"bold","color":"#000000"},
 "encoding":{"x":{"field":"c","type":"quantitative","scale":{"domain":[-1,0,1,2,3,4,5,6,7,8,9],"range":[0,5,110,148,246,346,451,1126,1133,1239,1246]},"axis":null},"y":{"field":"r","type":"quantitative","scale":{"domain":[-2,-1,0,3],"range":[12,26,41,84]},"axis":null},"text":{"field":"t"}}},
{"transform":[{"filter":"datum.k=='S'"}],"mark":{"type":"text","align":"left","baseline":"middle","fontSize":10.5,"dx":46,"color":"#000000"},
 "encoding":{"x":{"field":"c","type":"quantitative","scale":{"domain":[-1,0,1,2,3,4,5,6,7,8,9],"range":[0,5,110,148,246,346,451,1126,1133,1239,1246]},"axis":null},"y":{"field":"r","type":"quantitative","scale":{"domain":[-2,-1,0,3],"range":[12,26,41,84]},"axis":null},"text":{"field":"t"}}}
]
},
{
"width":1246,"height":183,
"view":{"fill":{"expr":"{gradient:'linear',x1:0,y1:0,x2:0,y2:1,stops:[{offset:0,color:'#d6b482'},{offset:1,color:'#e1c797'}]}"},"stroke":"#a58c6c"},
"resolve":{"axis":{"x":"independent","y":"independent"}},
"layer":[
{"data":{"values":[{"d":"2021-07-26","f":-0.547,"d2":"2022-06-03","f2":-0.235}]},"mark":{"type":"rule","color":"#1c6c1c","strokeWidth":3.5,"clip":true},
 "encoding":{"x":{"field":"d","type":"temporal","scale":{"domain":[{"year":1998,"month":5,"date":27},{"year":2023,"month":4,"date":27}],"nice":false},
   "axis":{"grid":true,"labels":false,"ticks":false,"domain":false,"title":null,"tickCount":{"interval":"month","step":3},"gridColor":{"condition":{"test":"month(datum.value)==0","value":"#b39a76"},"value":"#ccb48c"}}},"x2":{"field":"d2"},
  "y":{"field":"f","type":"quantitative","scale":{"domain":[-0.547,0.535],"nice":false,"zero":false},
   "axis":{"orient":"right","values":[-0.5,-0.4,-0.3,-0.2,-0.1,0,0.1,0.2,0.3,0.4,0.5],"format":".2f","grid":true,"gridColor":"#caae84","domain":false,"tickSize":3,"tickColor":"#8a7a6a","labelFontSize":10.5,"labelPadding":2,"title":null}},"y2":{"field":"f2"}}},
{"data":{"values":[{"z":0}]},"mark":{"type":"rule","color":"#7d7d85","strokeWidth":1.5},
 "encoding":{"y":{"field":"z","type":"quantitative","scale":{"domain":[-0.547,0.535],"nice":false,"zero":false},"axis":null}}},
{"data":{"values":[{"box":1}]},"mark":{"type":"rect","color":"#8a8a8a","opacity":0.75},
 "encoding":{"x":{"datum":{"year":2003,"month":3,"date":28},"type":"temporal","scale":{"domain":[{"year":1998,"month":5,"date":27},{"year":2023,"month":4,"date":27}],"nice":false},"axis":null},
  "x2":{"datum":{"year":2017,"month":12,"date":23}},
  "y":{"datum":0.358,"type":"quantitative","scale":{"domain":[-0.547,0.535],"nice":false,"zero":false},"axis":null},"y2":{"datum":-0.336}}},
{"data":{"values":[{"box":1}]},"mark":{"type":"rect","fill":"#ffffff","stroke":"#8c8c8c","strokeWidth":1},
 "encoding":{"x":{"datum":{"year":2003,"month":2,"date":27},"type":"temporal","scale":{"domain":[{"year":1998,"month":5,"date":27},{"year":2023,"month":4,"date":27}],"nice":false},"axis":null},
  "x2":{"datum":{"year":2017,"month":11,"date":24}},
  "y":{"datum":0.382,"type":"quantitative","scale":{"domain":[-0.547,0.535],"nice":false,"zero":false},"axis":null},"y2":{"datum":-0.312}}},
{"data":{"name":"note"},"mark":{"type":"text","align":"left","baseline":"top","font":"Liberation Sans","fontSize":14.5,"fontWeight":"bold","lineHeight":16,"color":"#1414d4"},
 "encoding":{"x":{"datum":{"year":2003,"month":3,"date":29},"type":"temporal","scale":{"domain":[{"year":1998,"month":5,"date":27},{"year":2023,"month":4,"date":27}],"nice":false},"axis":null},
  "y":{"datum":0.362,"type":"quantitative","scale":{"domain":[-0.547,0.535],"nice":false,"zero":false},"axis":null},"text":{"field":"t"}}},
{"data":{"values":[{"t":"GoldPredict.com"}]},"mark":{"type":"text","align":"left","baseline":"middle","fontSize":31,"color":"#6f8c44"},
 "encoding":{"x":{"datum":{"year":2018,"month":3,"date":1},"type":"temporal","scale":{"domain":[{"year":1998,"month":5,"date":27},{"year":2023,"month":4,"date":27}],"nice":false},"axis":null},
  "y":{"datum":0.288,"type":"quantitative","scale":{"domain":[-0.547,0.535],"nice":false,"zero":false},"axis":null},"text":{"field":"t"}}},
{"data":{"values":[{"t":"▲ FORCE(0) 0.00"}]},"mark":{"type":"text","align":"left","baseline":"middle","font":"DejaVu Sans Mono","fontSize":10.5,"color":"#111111"},
 "encoding":{"x":{"datum":{"year":1998,"month":6,"date":10},"type":"temporal","scale":{"domain":[{"year":1998,"month":5,"date":27},{"year":2023,"month":4,"date":27}],"nice":false},"axis":null},
  "y":{"datum":0.494,"type":"quantitative","scale":{"domain":[-0.547,0.535],"nice":false,"zero":false},"axis":null},"text":{"field":"t"}}},
{"data":{"values":[{"d":"2022-06-03","f":-0.235}]},"mark":{"type":"point","filled":true,"color":"#1c6c1c","opacity":1,"shape":"M0,-0.1L-0.55,1.1L0.55,1.1Z","size":700,"angle":38.8},
 "encoding":{"x":{"field":"d","type":"temporal","scale":{"domain":[{"year":1998,"month":5,"date":27},{"year":2023,"month":4,"date":27}],"nice":false},"axis":null},
  "y":{"field":"f","type":"quantitative","scale":{"domain":[-0.547,0.535],"nice":false,"zero":false},"axis":null}}}
]
},
{
"width":1246,"height":525,
"view":{"fill":{"expr":"{gradient:'linear',x1:0,y1:0,x2:0,y2:1,stops:[{offset:0,color:'#e0c592'},{offset:0.55,color:'#f7f1d4'},{offset:1,color:'#ebdab0'}]}"},"stroke":"#a58c6c"},
"resolve":{"scale":{"y":"independent"},"axis":{"x":"independent","y":"independent"}},
"layer":[
{"data":{"name":"candles"},"mark":{"type":"bar","width":3,"opacity":0.8},
 "encoding":{"x":{"field":"d","type":"temporal","scale":{"domain":[{"year":1998,"month":5,"date":27},{"year":2023,"month":4,"date":27}],"nice":false},
   "axis":{"orient":"bottom","grid":true,"ticks":false,"domain":false,"title":null,"tickCount":{"interval":"month","step":3},"gridColor":{"condition":{"test":"month(datum.value)==0","value":"#b39a76"},"value":"#d3bd97"},
    "labelExpr":"month(datum.value)==0 ? timeFormat(datum.value,'%y') : month(datum.value)==3 ? 'A' : month(datum.value)==6 ? 'J' : 'O'",
    "labelFontWeight":{"condition":{"test":"month(datum.value)==0","value":"bold"},"value":"normal"},
    "labelFontSize":{"condition":{"test":"month(datum.value)==0","value":12},"value":11},"labelPadding":1,"labelOverlap":false,"labelFlush":false,"labelBound":false}},
  "y":{"field":"v","type":"quantitative","scale":{"domain":[0,709],"nice":false},
   "axis":{"orient":"left","values":[25,50,75,100,125,150,175,200,225],"labelExpr":"datum.value + 'M'","grid":false,"domain":false,"tickSize":4,"tickColor":"#666666","labelFontSize":10.5,"labelPadding":1,"title":null}},
  "color":{"condition":{"test":"datum.c >= datum.o","value":"#9c9882"},"value":"#d9897c"}}},
{"resolve":{"axis":{"x":"independent","y":"independent"}},
 "layer":[
 {"data":{"name":"candles"},"mark":{"type":"rule","strokeWidth":1},
  "encoding":{"x":{"field":"d","type":"temporal","scale":{"domain":[{"year":1998,"month":5,"date":27},{"year":2023,"month":4,"date":27}],"nice":false},"axis":null},
   "y":{"field":"l","type":"quantitative","scale":{"type":"log","domain":[236,2084],"nice":false},
    "axis":{"orient":"right","values":[250,300,350,400,450,500,550,600,650,700,750,800,850,900,950,1000,1050,1100,1150,1200,1250,1300,1350,1400,1450,1500,1550,1600,1650,1700,1750,1800,1850,1900,1950],"format":"d","labelOverlap":false,"grid":true,"gridColor":"#d3bf98","domain":false,"tickSize":3,"tickColor":"#7a6a5a","labelFontSize":11,"labelPadding":2,"title":null}},
   "y2":{"field":"h"},
   "color":{"condition":{"test":"datum.c >= datum.o","value":"#000000"},"value":"#d00000"}}},
 {"data":{"name":"candles"},"mark":{"type":"bar","width":3},
  "encoding":{"x":{"field":"d","type":"temporal","scale":{"domain":[{"year":1998,"month":5,"date":27},{"year":2023,"month":4,"date":27}],"nice":false},"axis":null},
   "y":{"field":"o","type":"quantitative","scale":{"type":"log","domain":[236,2084],"nice":false},"axis":null},"y2":{"field":"c"},
   "color":{"condition":{"test":"datum.c >= datum.o","value":"#000000"},"value":"#d00000"}}},
 {"data":{"name":"candles"},
  "transform":[{"window":[{"op":"mean","field":"c","as":"e10"}],"frame":[-2,0],"sort":[{"field":"d"}]},{"window":[{"op":"mean","field":"c","as":"e20"}],"frame":[-4,0],"sort":[{"field":"d"}]},{"window":[{"op":"mean","field":"c","as":"e50"}],"frame":[-11,0],"sort":[{"field":"d"}]}],
  "layer":[
   {"mark":{"type":"line","color":"#e31818","strokeWidth":1},"encoding":{"x":{"field":"d","type":"temporal","scale":{"domain":[{"year":1998,"month":5,"date":27},{"year":2023,"month":4,"date":27}],"nice":false},"axis":null},"y":{"field":"e50","type":"quantitative","scale":{"type":"log","domain":[236,2084],"nice":false},"axis":null}}},
   {"mark":{"type":"line","color":"#10108a","strokeWidth":1},"encoding":{"x":{"field":"d","type":"temporal","scale":{"domain":[{"year":1998,"month":5,"date":27},{"year":2023,"month":4,"date":27}],"nice":false},"axis":null},"y":{"field":"e20","type":"quantitative","scale":{"type":"log","domain":[236,2084],"nice":false},"axis":null}}},
   {"mark":{"type":"line","color":"#0a700a","strokeWidth":2,"strokeDash":[3,3]},"encoding":{"x":{"field":"d","type":"temporal","scale":{"domain":[{"year":1998,"month":5,"date":27},{"year":2023,"month":4,"date":27}],"nice":false},"axis":null},"y":{"field":"e10","type":"quantitative","scale":{"type":"log","domain":[236,2084],"nice":false},"axis":null}}}
  ]},
 {"data":{"name":"ma"},"mark":{"type":"line","color":"#ff00ff","strokeWidth":1.3,"interpolate":"monotone"},
  "encoding":{"x":{"field":"d","type":"temporal","scale":{"domain":[{"year":1998,"month":5,"date":27},{"year":2023,"month":4,"date":27}],"nice":false},"axis":null},"y":{"field":"m","type":"quantitative","scale":{"type":"log","domain":[236,2084],"nice":false},"axis":null}}},
 {"data":{"values":[{"d":"2001-09-20","p":372.6,"d2":"2011-03-22","p2":1803}]},
  "mark":{"type":"rule","color":"#1c6c1c","strokeWidth":5,"clip":true},
  "encoding":{"x":{"field":"d","type":"temporal","scale":{"domain":[{"year":1998,"month":5,"date":27},{"year":2023,"month":4,"date":27}],"nice":false},"axis":null},"x2":{"field":"d2"},
   "y":{"field":"p","type":"quantitative","scale":{"type":"log","domain":[236,2084],"nice":false},"axis":null},"y2":{"field":"p2"}}},
 {"data":{"values":[{"d":"2013-05-27","p":1382,"d2":"2020-03-20","p2":1382},{"d":"2013-05-27","p":1109,"d2":"2020-02-08","p2":1109}]},
  "mark":{"type":"rule","color":"#1c6c1c","strokeWidth":4,"clip":true},
  "encoding":{"x":{"field":"d","type":"temporal","scale":{"domain":[{"year":1998,"month":5,"date":27},{"year":2023,"month":4,"date":27}],"nice":false},"axis":null},"x2":{"field":"d2"},
   "y":{"field":"p","type":"quantitative","scale":{"type":"log","domain":[236,2084],"nice":false},"axis":null},"y2":{"field":"p2"}}},
 {"data":{"values":[{"d":"2020-02-13","p":1435,"d2":"2021-07-26","p2":2084}]},
  "mark":{"type":"rule","color":"#1c6c1c","strokeWidth":3.5,"clip":true},
  "encoding":{"x":{"field":"d","type":"temporal","scale":{"domain":[{"year":1998,"month":5,"date":27},{"year":2023,"month":4,"date":27}],"nice":false},"axis":null},"x2":{"field":"d2"},
   "y":{"field":"p","type":"quantitative","scale":{"type":"log","domain":[236,2084],"nice":false},"axis":null},"y2":{"field":"p2"}}},
 {"data":{"values":[{"d":"2011-03-22","p":1803}]},"mark":{"type":"point","filled":true,"color":"#1c6c1c","opacity":1,"shape":"M0,-0.1L-0.55,1.1L0.55,1.1Z","size":1000,"angle":51.3},
  "encoding":{"x":{"field":"d","type":"temporal","scale":{"domain":[{"year":1998,"month":5,"date":27},{"year":2023,"month":4,"date":27}],"nice":false},"axis":null},"y":{"field":"p","type":"quantitative","scale":{"type":"log","domain":[236,2084],"nice":false},"axis":null}}},
 {"data":{"name":"ann"},"transform":[{"filter":"datum.k=='h'"}],
  "layer":[
   {"mark":{"type":"point","filled":true,"fill":"#ffffff","stroke":"#a89684","strokeWidth":1,"opacity":1,"size":2116},
    "encoding":{"x":{"field":"d","type":"temporal","scale":{"domain":[{"year":1998,"month":5,"date":27},{"year":2023,"month":4,"date":27}],"nice":false},"axis":null},"y":{"field":"p","type":"quantitative","scale":{"type":"log","domain":[236,2084],"nice":false},"axis":null},
     "shape":{"condition":{"test":"length(datum.t)>6","value":"M-1,-0.76L1,-0.76L1,-0.19L0.13,-0.19L0,-0.02L-0.13,-0.19L-1,-0.19Z"},"value":"M-0.87,-0.76L0.87,-0.76L0.87,-0.19L0.13,-0.19L0,-0.02L-0.13,-0.19L-0.87,-0.19Z"}}},
   {"mark":{"type":"text","font":"DejaVu Sans Mono","fontSize":10,"dy":-11,"baseline":"middle","color":"#000000"},
    "encoding":{"x":{"field":"d","type":"temporal","scale":{"domain":[{"year":1998,"month":5,"date":27},{"year":2023,"month":4,"date":27}],"nice":false},"axis":null},"y":{"field":"p","type":"quantitative","scale":{"type":"log","domain":[236,2084],"nice":false},"axis":null},"text":{"field":"t"}}}
  ]},
 {"data":{"name":"ann"},"transform":[{"filter":"datum.k=='l'"}],
  "layer":[
   {"mark":{"type":"point","filled":true,"fill":"#ffffff","stroke":"#a89684","strokeWidth":1,"opacity":1,"size":2116},
    "encoding":{"x":{"field":"d","type":"temporal","scale":{"domain":[{"year":1998,"month":5,"date":27},{"year":2023,"month":4,"date":27}],"nice":false},"axis":null},"y":{"field":"p","type":"quantitative","scale":{"type":"log","domain":[236,2084],"nice":false},"axis":null},
     "shape":{"condition":{"test":"length(datum.t)>6","value":"M-1,0.76L1,0.76L1,0.19L0.13,0.19L0,0.02L-0.13,0.19L-1,0.19Z"},"value":"M-0.87,0.76L0.87,0.76L0.87,0.19L0.13,0.19L0,0.02L-0.13,0.19L-0.87,0.19Z"}}},
   {"mark":{"type":"text","font":"DejaVu Sans Mono","fontSize":10,"dy":11,"baseline":"middle","color":"#000000"},
    "encoding":{"x":{"field":"d","type":"temporal","scale":{"domain":[{"year":1998,"month":5,"date":27},{"year":2023,"month":4,"date":27}],"nice":false},"axis":null},"y":{"field":"p","type":"quantitative","scale":{"type":"log","domain":[236,2084],"nice":false},"axis":null},"text":{"field":"t"}}}
  ]},
 {"data":{"values":[{"t":"▮ $GOLD (Weekly) 1282.60"}]},"mark":{"type":"text","align":"left","baseline":"middle","font":"DejaVu Sans Mono","fontSize":10.5,"color":"#111111"},
  "encoding":{"x":{"datum":{"year":1998,"month":6,"date":10},"type":"temporal","scale":{"domain":[{"year":1998,"month":5,"date":27},{"year":2023,"month":4,"date":27}],"nice":false},"axis":null},"y":{"datum":2025,"type":"quantitative","scale":{"type":"log","domain":[236,2084],"nice":false},"axis":null},"text":{"field":"t"}}},
 {"data":{"values":[{"t":"━ EMA(20) 1250.88"}]},"mark":{"type":"text","align":"left","baseline":"middle","font":"DejaVu Sans Mono","fontSize":10,"color":"#10108a"},
  "encoding":{"x":{"datum":{"year":1998,"month":6,"date":10},"type":"temporal","scale":{"domain":[{"year":1998,"month":5,"date":27},{"year":2023,"month":4,"date":27}],"nice":false},"axis":null},"y":{"datum":1934,"type":"quantitative","scale":{"type":"log","domain":[236,2084],"nice":false},"axis":null},"text":{"field":"t"}}},
 {"data":{"values":[{"t":"━ EMA(50) 1256.16"}]},"mark":{"type":"text","align":"left","baseline":"middle","font":"DejaVu Sans Mono","fontSize":10,"color":"#d01515"},
  "encoding":{"x":{"datum":{"year":1998,"month":6,"date":10},"type":"temporal","scale":{"domain":[{"year":1998,"month":5,"date":27},{"year":2023,"month":4,"date":27}],"nice":false},"axis":null},"y":{"datum":1848,"type":"quantitative","scale":{"type":"log","domain":[236,2084],"nice":false},"axis":null},"text":{"field":"t"}}},
 {"data":{"values":[{"t":"╍ EMA(10) 1262.71"}]},"mark":{"type":"text","align":"left","baseline":"middle","font":"DejaVu Sans Mono","fontSize":10,"color":"#0a700a"},
  "encoding":{"x":{"datum":{"year":1998,"month":6,"date":10},"type":"temporal","scale":{"domain":[{"year":1998,"month":5,"date":27},{"year":2023,"month":4,"date":27}],"nice":false},"axis":null},"y":{"datum":1765,"type":"quantitative","scale":{"type":"log","domain":[236,2084],"nice":false},"axis":null},"text":{"field":"t"}}},
 {"data":{"values":[{"t":"━ MA(200) 1237.60"}]},"mark":{"type":"text","align":"left","baseline":"middle","font":"DejaVu Sans Mono","fontSize":10,"color":"#ff00ff"},
  "encoding":{"x":{"datum":{"year":1998,"month":6,"date":10},"type":"temporal","scale":{"domain":[{"year":1998,"month":5,"date":27},{"year":2023,"month":4,"date":27}],"nice":false},"axis":null},"y":{"datum":1687,"type":"quantitative","scale":{"type":"log","domain":[236,2084],"nice":false},"axis":null},"text":{"field":"t"}}},
 {"data":{"values":[{"t":"▮ Volume 102,252,400"}]},"mark":{"type":"text","align":"left","baseline":"middle","font":"DejaVu Sans Mono","fontSize":10,"color":"#666666"},
  "encoding":{"x":{"datum":{"year":1998,"month":6,"date":10},"type":"temporal","scale":{"domain":[{"year":1998,"month":5,"date":27},{"year":2023,"month":4,"date":27}],"nice":false},"axis":null},"y":{"datum":1612,"type":"quantitative","scale":{"type":"log","domain":[236,2084],"nice":false},"axis":null},"text":{"field":"t"}}}
]}
]
},
{
"width":1246,"height":182,
"view":{"fill":{"expr":"{gradient:'linear',x1:0,y1:0,x2:0,y2:1,stops:[{offset:0,color:'#ede2bb'},{offset:1,color:'#dabc8a'}]}"},"stroke":"#a58c6c"},
"resolve":{"axis":{"x":"independent","y":"independent"}},
"layer":[
{"data":{"name":"mfi"},"mark":{"type":"line","color":"#111111","strokeWidth":1.2},
 "encoding":{"x":{"field":"d","type":"temporal","scale":{"domain":[{"year":1998,"month":5,"date":27},{"year":2023,"month":4,"date":27}],"nice":false},
   "axis":{"grid":true,"labels":false,"ticks":false,"domain":false,"title":null,"tickCount":{"interval":"month","step":3},"gridColor":{"condition":{"test":"month(datum.value)==0","value":"#b39a76"},"value":"#cfb892"}}},
  "y":{"field":"m","type":"quantitative","scale":{"domain":[-3.5,104],"nice":false,"zero":false},
   "axis":{"orient":"right","values":[0,10,20,30,40,50,60,70,80,90,100],"labelExpr":"(datum.value==20||datum.value==50||datum.value==80) ? datum.label : ''","grid":true,"gridColor":"#d2bf98","domain":false,"tickSize":3,"tickColor":"#b08080","labelFontSize":11,"labelPadding":2,"title":null}}}},
{"data":{"values":[{"lvl":20},{"lvl":80}]},"mark":{"type":"rule","color":"#7a7a82","strokeWidth":1.5},
 "encoding":{"y":{"field":"lvl","type":"quantitative","scale":{"domain":[-3.5,104],"nice":false,"zero":false},"axis":null}}},
{"data":{"values":[{"t":"▲ MFI(14) 55.29"}]},"mark":{"type":"text","align":"left","baseline":"middle","font":"DejaVu Sans Mono","fontSize":10.5,"color":"#111111"},
 "encoding":{"x":{"datum":{"year":1998,"month":6,"date":10},"type":"temporal","scale":{"domain":[{"year":1998,"month":5,"date":27},{"year":2023,"month":4,"date":27}],"nice":false},"axis":null},"y":{"datum":99.5,"type":"quantitative","scale":{"domain":[-3.5,104],"nice":false,"zero":false},"axis":null},"text":{"field":"t"}}}
]
},
{
"width":1246,"height":179,
"view":{"fill":{"expr":"{gradient:'linear',x1:0,y1:0,x2:0,y2:1,stops:[{offset:0,color:'#dfc494'},{offset:1,color:'#d0a978'}]}"},"stroke":"#a58c6c"},
"resolve":{"axis":{"x":"independent","y":"independent"}},
"layer":[
{"data":{"name":"obv"},"mark":{"type":"line","color":"#111111","strokeWidth":1.3},
 "encoding":{"x":{"field":"d","type":"temporal","scale":{"domain":[{"year":1998,"month":5,"date":27},{"year":2023,"month":4,"date":27}],"nice":false},
   "axis":{"orient":"bottom","grid":true,"ticks":false,"domain":false,"title":null,"tickCount":{"interval":"month","step":3},"gridColor":{"condition":{"test":"month(datum.value)==0","value":"#b09774"},"value":"#c9b08a"},
    "labelExpr":"month(datum.value)==0 ? timeFormat(datum.value,'%y') : month(datum.value)==3 ? 'A' : month(datum.value)==6 ? 'J' : 'O'",
    "labelFontWeight":{"condition":{"test":"month(datum.value)==0","value":"bold"},"value":"normal"},
    "labelFontSize":{"condition":{"test":"month(datum.value)==0","value":12},"value":11},"labelPadding":1,"labelOverlap":false,"labelFlush":false,"labelBound":false}},
  "y":{"field":"b","type":"quantitative","scale":{"domain":[0,182],"nice":false},
   "axis":{"orient":"right","values":[0,20,40,60,80,100,120,140,160,180],"labels":false,"grid":true,"gridColor":"#c9ad82","domain":false,"tickSize":3,"tickColor":"#b08080","title":null}}}},
{"data":{"values":[{"t":"━ On Balance Vol"}]},"mark":{"type":"text","align":"left","baseline":"middle","font":"DejaVu Sans Mono","fontSize":10.5,"color":"#111111"},
 "encoding":{"x":{"datum":{"year":1998,"month":6,"date":10},"type":"temporal","scale":{"domain":[{"year":1998,"month":5,"date":27},{"year":2023,"month":4,"date":27}],"nice":false},"axis":null},"y":{"datum":174,"type":"quantitative","scale":{"domain":[0,182],"nice":false},"axis":null},"text":{"field":"t"}}}
]
}
]
}
